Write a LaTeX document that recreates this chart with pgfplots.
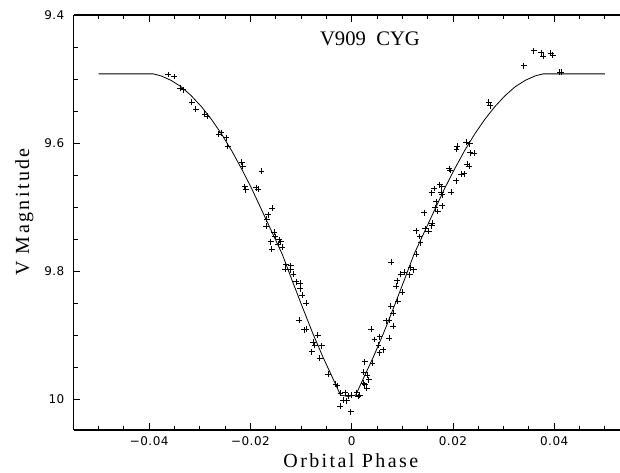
\documentclass[border=0pt]{standalone}
\usepackage{fontspec}
\setmainfont{Liberation Serif}
\newfontfamily\tickfont[LetterSpace=4]{DejaVu Sans}
\newfontfamily\labfont[LetterSpace=12]{Liberation Serif}
\usepackage{pgfplots}
\pgfplotsset{compat=1.18}

\pgfplotstableread{
phase mag
-0.0500 9.492
-0.0392 9.492
-0.0377 9.495
-0.0357 9.502
-0.0337 9.512
-0.0317 9.526
-0.0297 9.543
-0.0277 9.563
-0.0257 9.586
-0.0237 9.612
-0.0217 9.641
-0.0197 9.672
-0.0177 9.706
-0.0157 9.740
-0.0137 9.774
-0.0117 9.816
-0.0097 9.857
-0.0077 9.897
-0.0057 9.934
-0.0037 9.968
-0.0022 9.994
-0.0007 9.996
0.0008 9.994
0.0023 9.968
0.0043 9.934
0.0063 9.897
0.0083 9.857
0.0103 9.816
0.0123 9.774
0.0143 9.740
0.0163 9.706
0.0183 9.672
0.0203 9.641
0.0223 9.612
0.0243 9.586
0.0263 9.563
0.0283 9.543
0.0303 9.526
0.0323 9.512
0.0343 9.502
0.0363 9.495
0.0378 9.492
0.0500 9.492
}\model

\pgfplotstableread{
phase mag
-0.0362 9.493
-0.0351 9.496
-0.0339 9.514
-0.0333 9.517
-0.0316 9.536
-0.0308 9.547
-0.0290 9.555
-0.0285 9.558
-0.0263 9.586
-0.0257 9.584
-0.0248 9.592
-0.0245 9.605
-0.0217 9.630
-0.0215 9.636
-0.0178 9.644
-0.0211 9.668
-0.0209 9.673
-0.0189 9.670
-0.0185 9.672
-0.0157 9.702
-0.0165 9.712
-0.0168 9.719
-0.0169 9.730
-0.0153 9.739
-0.0151 9.746
-0.0143 9.751
-0.0140 9.754
-0.0160 9.754
-0.0145 9.758
-0.0137 9.763
-0.0158 9.766
-0.0130 9.790
-0.0120 9.792
-0.0131 9.797
-0.0120 9.798
-0.0115 9.805
-0.0110 9.817
-0.0102 9.819
-0.0102 9.828
-0.0098 9.838
-0.0090 9.850
-0.0104 9.877
-0.0094 9.892
-0.0090 9.891
-0.0067 9.900
-0.0076 9.911
-0.0073 9.916
-0.0079 9.926
-0.0059 9.917
-0.0063 9.936
-0.0046 9.961
-0.0032 9.977
-0.0028 9.979
-0.0022 9.991
-0.0013 9.990
-0.0007 9.995
0.0000 9.994
-0.0017 10.002
-0.0010 10.003
-0.0023 10.011
-0.0002 10.020
0.0010 9.990
0.0016 9.994
0.0013 9.996
0.0024 9.975
0.0026 9.978
0.0030 9.983
0.0024 9.958
0.0031 9.963
0.0034 9.970
0.0026 9.942
0.0041 9.944
0.0039 9.891
0.0045 9.907
0.0055 9.903
0.0053 9.916
0.0055 9.928
0.0062 9.923
0.0074 9.905
0.0068 9.878
0.0074 9.877
0.0082 9.886
0.0077 9.855
0.0082 9.866
0.0091 9.847
0.0100 9.833
0.0088 9.824
0.0090 9.815
0.0097 9.805
0.0104 9.802
0.0115 9.806
0.0117 9.795
0.0123 9.798
0.0128 9.774
0.0078 9.786
0.0136 9.756
0.0134 9.746
0.0127 9.737
0.0145 9.734
0.0152 9.738
0.0159 9.725
0.0143 9.709
0.0158 9.729
0.0165 9.701
0.0170 9.707
0.0179 9.698
0.0167 9.692
0.0179 9.681
0.0177 9.677
0.0197 9.677
0.0158 9.678
0.0163 9.671
0.0174 9.665
0.0178 9.668
0.0206 9.659
0.0216 9.649
0.0222 9.648
0.0193 9.640
0.0195 9.643
0.0228 9.633
0.0232 9.636
0.0234 9.615
0.0242 9.616
0.0208 9.605
0.0207 9.610
0.0226 9.599
0.0233 9.601
0.0271 9.536
0.0274 9.542
0.0340 9.479
0.0360 9.456
0.0374 9.459
0.0378 9.464
0.0393 9.460
0.0397 9.463
0.0411 9.489
0.0414 9.489
}\obs

\begin{document}
\begin{tikzpicture}
  \begin{axis}[
      scale only axis, width=409.7pt, height=311.25pt,
      xmin=-0.0549, xmax=0.053,
      ymin=9.4, ymax=10.0484, y dir=reverse,
      axis x line*=box, axis y line*=left,
      axis line style={line width=0.8pt},
      scaled x ticks=false, scaled y ticks=false,
      xtick={-0.04,-0.02,0,0.02,0.04},
      xticklabels={−0.04,−0.02,0,0.02,0.04},
      minor xtick={-0.05,-0.045,...,0.05},
      ytick={9.4,9.6,9.8,10},
      yticklabels={9.4,9.6,9.8,10},
      minor ytick={9.45,9.5,...,10},
      tick align=inside, xtick pos=both, ytick pos=left,
      major tick length=5pt, minor tick length=3pt,
      tick style={black, line width=0.6pt},
      ticklabel style={font=\tickfont\fontsize{9}{11}\selectfont},
      xticklabel style={yshift=-1.5pt},
      yticklabel style={xshift=-3.5pt},
      xlabel={Orbital Phase}, ylabel={V Magnitude},
      label style={font=\labfont\fontsize{15}{17}\selectfont},
      xlabel style={at={(axis description cs:0.5072,-0.09)}, anchor=base},
      ylabel style={at={(axis description cs:-0.0818,0.5253)}, anchor=base},
    ]
    \addplot[black, line width=0.6pt] table[x=phase, y=mag] {\model};
    \addplot[only marks, mark=+, mark size=2.2pt, mark options={line width=0.7pt, black}]
      table[x=phase, y=mag] {\obs};
    \node[anchor=base west, inner sep=0pt, font=\fontsize{15.5}{18}\selectfont]
      at (axis cs:-0.0063,9.447) {V909\ \ CYG};
  \end{axis}
  \pgfresetboundingbox
  \path (-55.3pt,-31.5pt) rectangle (409.7pt,322.5pt);
\end{tikzpicture}
\end{document}
